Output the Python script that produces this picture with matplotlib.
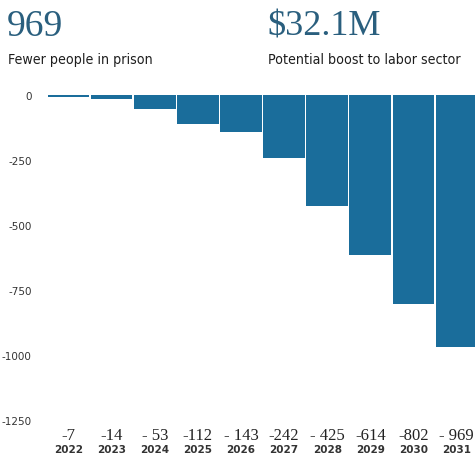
import matplotlib.pyplot as plt
from matplotlib import transforms

years = ['2022', '2023', '2024', '2025', '2026', '2027', '2028', '2029', '2030', '2031']
values = [-7, -14, -53, -112, -143, -242, -425, -614, -802, -969]
value_labels = ['-7', '-14', '- 53', '-112', '- 143', '-242', '- 425', '-614', '-802', '- 969']
yticks = [0, -250, -500, -750, -1000, -1250]

bar_color = '#1a6d9b'
head_color = '#2a5f7e'

fig = plt.figure(figsize=(4.75, 4.64), dpi=100)

# headline numbers
fig.text(7 / 475, 1 - 36 / 464, '969', family='Liberation Serif', fontsize=27,
         color=head_color, ha='left', va='baseline')
fig.text(267 / 475, 1 - 36 / 464, '$32.1M', family='Liberation Serif', fontsize=26,
         color=head_color, ha='left', va='baseline')
fig.text(8 / 475, 1 - 64 / 464, 'Fewer people in prison', fontsize=10.2,
         color='#1e1e1e', ha='left', va='baseline', fontweight='medium',
         fontstretch='condensed')
fig.text(268 / 475, 1 - 64 / 464, 'Potential boost to labor sector', fontsize=10.2,
         color='#1e1e1e', ha='left', va='baseline', fontweight='medium',
         fontstretch='condensed')

ax = fig.add_axes([47 / 475, 43 / 464, 428 / 475, 335.4 / 464])
x = list(range(len(years)))
ax.bar(x, values, width=0.965, color=bar_color)
ax.set_xlim(-0.5, 9.43)
ax.set_ylim(-1250, 40)

ax.set_yticks(yticks)
ax.set_yticklabels([str(v) for v in yticks], fontsize=7.5, color='#333333')
ax.tick_params(axis='y', length=0, pad=11)
ax.set_xticks([])
for s in ax.spines.values():
    s.set_visible(False)

trans = transforms.blended_transform_factory(ax.transData, ax.transAxes)
for i in x:
    ax.text(i, -0.045, value_labels[i], transform=trans, family='Liberation Serif',
            fontsize=12, color='#222222', ha='center', va='center')
    ax.text(i, -0.087, years[i], transform=trans, fontsize=7.5, fontweight='bold',
            color='#333333', ha='center', va='center')

fig.savefig('out.png', dpi=100)
